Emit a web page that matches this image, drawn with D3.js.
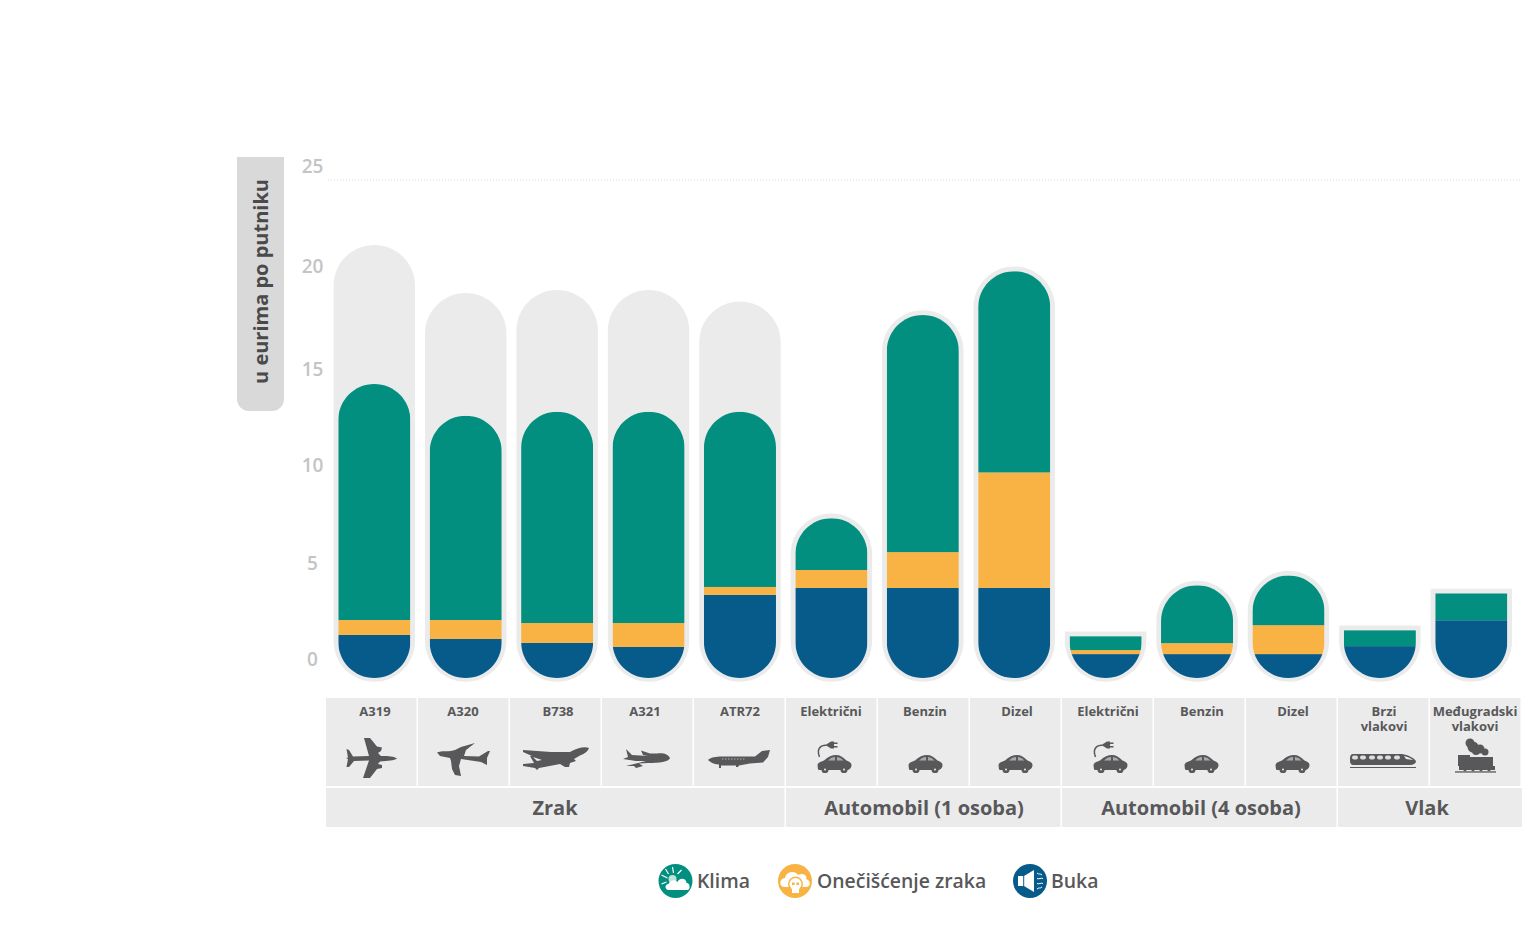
<!DOCTYPE html>
<html>
<head>
<meta charset="utf-8">
<script src="https://cdn.jsdelivr.net/npm/d3@7"></script>
<style>
  body { margin: 0; background: #fff; }
  text { font-family: "Open Sans", sans-serif; }
</style>
</head>
<body>
<div id="chart"></div>
<script>
// values
const categories = ["A319", "A320", "B738", "A321", "ATR72", "Električni", "Benzin", "Dizel", "Električni", "Benzin", "Dizel", "Brzi|vlakovi", "Međugradski|vlakovi"];
const buka = [2.16, 1.96, 1.76, 1.56, 4.17, 4.52, 4.52, 4.52, 1.2, 1.2, 1.2, 1.6, 2.9];
const oneciscenje = [0.75, 0.95, 1.0, 1.2, 0.4, 0.9, 1.8, 5.8, 0.2, 0.55, 1.45, 0, 0];
const klima = [11.85, 10.25, 10.6, 10.6, 8.8, 2.6, 11.9, 10.1, 0.7, 2.9, 2.5, 0.8, 1.35];
// grey ghost bars behind the planes
const raspon = [21.74, 19.33, 19.48, 19.48, 18.9, null, null, null, null, null, null, null, null];

const yTicks = [0, 5, 10, 15, 20, 25];
const tickNudge = [-6, -2, 0, 3, 0, -1]; // the labels are not quite evenly spaced in the original
const groups = ["Zrak", "Automobil (1 osoba)", "Automobil (4 osoba)", "Vlak"];
const groupSizes = [5, 3, 3, 2];
const groupNudge = [0, 1, 2, -2];
const icons = ["a319", "a320", "b738", "a321", "atr72", "ecar", "car", "car", "ecar", "car", "car", "fast", "steam"];
const labelNudge = [3, -1, 2, -3, 0, -1, 1, 1, 0, 2, 1, 0, -1];

const seriesNames = ["Klima", "Onečišćenje zraka", "Buka"];
const seriesColors = ["#028f80", "#f8b344", "#075b8b"];
const grey = "#ebebeb";
const ink = "#58585a";

const svg = d3.select("#chart").append("svg")
  .attr("width", 1527)
  .attr("height", 932)
  .style("display", "block");

// scales
const y = d3.scaleLinear().domain([0, 25]).range([678, 180]);
const x = d3.scaleBand().domain(d3.range(categories.length)).range([328.6, 1517]).paddingInner(0.212).paddingOuter(0.106);
const cell = d3.scaleBand().domain(d3.range(categories.length)).range([326, 1522]);

const rows = categories.map((c, i) => ({ i, buka: buka[i], oneciscenje: oneciscenje[i], klima: klima[i] }));
const stacked = d3.stack().keys(["buka", "oneciscenje", "klima"])(rows);
const colorOf = { buka: seriesColors[2], oneciscenje: seriesColors[1], klima: seriesColors[0] };

// capsule: bottom always round, top only round when the bar is tall enough
function capsule(x0, x1, top, bottom, roundTop) {
  const r = (x1 - x0) / 2;
  const k = r * 0.5523;
  let p = "";
  if (roundTop) {
    p += `M${x0},${top + r}C${x0},${top + r - k} ${x0 + r - k},${top} ${x0 + r},${top}C${x0 + r + k},${top} ${x1},${top + r - k} ${x1},${top + r}`;
  } else {
    p += `M${x0},${top}L${x1},${top}`;
  }
  p += `L${x1},${bottom - r}C${x1},${bottom - r + k} ${x0 + r + k},${bottom} ${x0 + r},${bottom}C${x0 + r - k},${bottom} ${x0},${bottom - r + k} ${x0},${bottom - r}Z`;
  return p;
}

const total = i => buka[i] + oneciscenje[i] + klima[i];
const isRound = i => total(i) > 4.5;
const pad = 4.7;

// grey backing
svg.append("g").selectAll("path")
  .data(rows)
  .join("path")
    .attr("fill", grey)
    .attr("d", d => {
      const top = raspon[d.i] ? y(raspon[d.i]) : y(total(d.i)) - pad;
      return capsule(x(d.i) - pad, x(d.i) + x.bandwidth() + pad, top, y(0) + pad - 1, isRound(d.i));
    });

// clip per bar
const defs = svg.append("defs");
defs.selectAll("clipPath")
  .data(rows)
  .join("clipPath")
    .attr("id", d => "bar" + d.i)
  .append("path")
    .attr("d", d => capsule(x(d.i), x(d.i) + x.bandwidth(), y(total(d.i)), y(0), isRound(d.i)));

// stacked segments
const barG = svg.append("g");
rows.forEach(d => {
  barG.append("g")
    .attr("clip-path", `url(#bar${d.i})`)
    .selectAll("rect")
    .data(stacked.map(s => ({ key: s.key, v: s[d.i] })))
    .join("rect")
      .attr("x", x(d.i))
      .attr("width", x.bandwidth())
      .attr("y", s => y(s.v[1]))
      .attr("height", s => y(s.v[0]) - y(s.v[1]))
      .attr("fill", s => colorOf[s.key]);
});

// y axis
svg.append("line")
  .attr("x1", 328).attr("x2", 1520)
  .attr("y1", y(25)).attr("y2", y(25))
  .attr("stroke", "#dcdcdc")
  .attr("stroke-dasharray", "1 2");

const yAxis = svg.append("g")
  .attr("transform", "translate(312.5,-14)")
  .call(d3.axisLeft(y).tickValues(yTicks).tickSize(0).tickPadding(0));
yAxis.select(".domain").remove();
yAxis.selectAll("text")
  .attr("x", 0)
  .attr("dy", (d, i) => tickNudge[i] + 7)
  .attr("text-anchor", "middle")
  .style("font-family", '"Open Sans", sans-serif')
  .style("font-size", "19px")
  .style("font-weight", 600)
  .attr("fill", "#c4c4c4");

// axis title pill
svg.append("path")
  .attr("d", "M237,157H284V399a12,12 0 0 1 -12,12H249a12,12 0 0 1 -12,-12Z")
  .attr("fill", "#d9d9d9");
svg.append("text")
  .attr("transform", "translate(267.5,281.5) rotate(-90)")
  .attr("text-anchor", "middle")
  .attr("font-size", 20)
  .attr("font-weight", 700)
  .attr("fill", "#4a4a4a")
  .text("u eurima po putniku");

// category cells
const cellG = svg.append("g");
cellG.selectAll("rect")
  .data(rows)
  .join("rect")
    .attr("x", d => cell(d.i))
    .attr("y", 698)
    .attr("width", cell.bandwidth() - 1.5)
    .attr("height", 88)
    .attr("fill", grey);

rows.forEach(d => {
  const lines = categories[d.i].split("|");
  lines.forEach((t, k) => {
    cellG.append("text")
      .attr("x", cell(d.i) + cell.bandwidth() / 2 + labelNudge[d.i])
      .attr("y", 716 + k * 15)
      .attr("text-anchor", "middle")
      .attr("font-size", 13)
      .attr("font-weight", 700)
      .attr("fill", ink)
      .text(t);
  });
});

// group row
let start = 0;
groups.forEach((g, i) => {
  const x0 = cell(start);
  const x1 = cell(start + groupSizes[i] - 1) + cell.bandwidth();
  svg.append("rect")
    .attr("x", x0).attr("y", 788)
    .attr("width", x1 - x0 - (i < groups.length - 1 ? 1.5 : 0)).attr("height", 39)
    .attr("fill", grey);
  svg.append("text")
    .attr("x", (x0 + x1) / 2 - 1 + groupNudge[i]).attr("y", 815)
    .attr("text-anchor", "middle")
    .attr("font-size", 20)
    .attr("font-weight", 700)
    .attr("fill", ink)
    .text(g);
  start += groupSizes[i];
});

// vehicle icons, drawn around the top-left corner of each cell
const carBody = "M1,14.5 L0.5,10 C1,7.5 4,6.5 7,5.5 C11,1.5 15,0 19,0 C23,0 26,2 29.5,5.5 C32.5,6.5 34.5,8 34.5,10 C34.5,13.5 32,15 30,15 L5,15 C3,15 1.5,15 1,14.5Z";
function drawCar(g, ox, oy) {
  const c = g.append("g").attr("transform", `translate(${ox},${oy})`);
  c.append("path").attr("d", carBody).attr("fill", ink);
  c.append("path").attr("d", "M11,5.5 C13.5,3 15.5,2 18,2 L18,5.5Z M20,2 C22.5,2.3 24.5,3.5 26.5,5.5 L20,5.5Z").attr("fill", "#a9a9a9");
  [8, 27].forEach(cx => {
    c.append("circle").attr("cx", cx).attr("cy", 14.5).attr("r", 3.6).attr("fill", ink);
    c.append("circle").attr("cx", cx).attr("cy", 14.5).attr("r", 1).attr("fill", grey);
  });
}

const iconDraw = {
  a319: g => g.append("path").attr("fill", ink).attr("d", "M57,26.5 C54,24.5 49,24 41,24 L38,21 L41,19 L42,15.5 L37,14.5 L30,6 L24,6 L29,24 L13,24.5 L9,18 L6.5,17 L8,25.5 L6,26 L8,27 L6.5,35 L9,35 L14,29 L29,28.5 L23,46 L30,46 L37,37 L42,36 L42,33 L38,32 L40,29.5 C48,29 54,28.5 57,26.5Z"),
  a320: g => g.append("path").attr("fill", ink).attr("d", "M7,20.5 C11,18.5 20,20 25,18 L31,15 L45,11 L36,18 L34,24 L49,24.5 L58,19 L60,19 L57,26 L57,33 L51,30 L31,27 L29,34 L31,44 L25,43 L22,37 L21,29 L20,26 L10,24Z"),
  b738: g => g.append("path").attr("fill", ink).attr("fill-rule", "evenodd").attr("d", "M74,13 C70,11 62,13 55,17 L36,17 L8,15 L8,17 L17,21 L15,21 L19,28 L8,29 L8,31 L20,33 L22,35 L24,33 L45,29 L50,32 L54,32 L55,28 L61,26 L59,24 L65,20.5 C70,18.5 73,16 74,13Z M18,22 L27,25 L22,26Z"),
  a321: g => g.append("path").attr("fill", ink).attr("d", "M51,23 C49,18.5 43,17.5 38,18.5 L31,18.5 L22,15.5 L24,20 L29,21 L13,20 L7,14 L9,22 L4,24 L17,26 L27,26 L7,31 L15,31 L17,33 L24,31 L20,28.5 L29,28 C40,28 50,27 51,23Z"),
  atr72: g => {
    g.append("path").attr("fill", ink).attr("d", "M8,25 C10,22.5 16,21.5 22,21.5 L55,21.5 L62,16 L70,15 L68,22 L63,27.5 L50,28.5 L39,30.5 L38,32 L36,32 L36,30.5 L21,30.5 L21,33 L19,33 L19,29.5 C14,29.5 10,27 8,25Z");
    g.append("line").attr("x1", 22).attr("x2", 46).attr("y1", 24).attr("y2", 24).attr("stroke", "#b5b5b5").attr("stroke-dasharray", "1.4 1.6");
  },
  car: (g, ox) => drawCar(g, ox, 57),
  ecar: (g, ox) => {
    drawCar(g, ox, 57);
    g.append("path").attr("fill", "none").attr("stroke", ink).attr("stroke-width", 1.5).attr("d", `M${ox + 2.5},59 C${ox - 1},50 ${ox + 4},47 ${ox + 11},47`);
    g.append("path").attr("fill", ink).attr("d", `M${ox + 10},46 L${ox + 14},43.5 L${ox + 17},43.5 L${ox + 17},50.5 L${ox + 14},50.5 L${ox + 10},48Z`);
    g.append("path").attr("fill", ink).attr("d", `M${ox + 17},44.5 h3.5 v1.4 h-3.5Z M${ox + 17},48 h3.5 v1.4 h-3.5Z`);
  },
  fast: g => {
    g.append("path").attr("fill", ink).attr("d", "M13,54 L62,54 C68,55 74,58 76,61 C76,63 74,65 70,65 L13,65 C11,65 10,63 10,61 L10,58 C10,56 11,54 13,54Z");
    [15, 23, 32, 40, 48, 57].forEach(cx => g.append("rect").attr("x", cx - 3).attr("y", 55.5).attr("width", 6).attr("height", 4).attr("rx", 2).attr("fill", "#dedede"));
    g.append("path").attr("fill", grey).attr("d", "M64,56 C68,57 71,58 73,60 L66,59Z");
    g.append("rect").attr("x", 10).attr("y", 67).attr("width", 66).attr("height", 1).attr("fill", ink);
  },
  steam: g => {
    [[25, 43, 4.5], [28, 47, 5.5], [35, 49, 4.5], [40, 52, 3.5], [31, 51, 4]].forEach(c => {
      g.append("circle").attr("cx", c[0]).attr("cy", c[1]).attr("r", c[2]).attr("fill", ink);
    });
    g.append("path").attr("fill", ink).attr("d", "M13,55 h12 v2 h23 v9 h2 v4 h-36 v-4 h-1Z");
    [20, 28, 36, 44].forEach(cx => g.append("circle").attr("cx", cx).attr("cy", 69.5).attr("r", 1.8).attr("fill", ink));
    g.append("rect").attr("x", 10).attr("y", 71.3).attr("width", 41).attr("height", 1.3).attr("fill", ink);
  }
};

// where each icon sits: plane and train drawings use their own local box
const iconOrigin = [[340, 732], [430, 732], [515, 735], [619, 735], [700, 735], [0, 698], [0, 698], [0, 698], [0, 698], [0, 698], [0, 698], [1340, 700], [1445, 700]];
const carLeft = [0, 0, 0, 0, 0, 817, 908, 998, 1093, 1184, 1275];
icons.forEach((name, i) => {
  const g = svg.append("g").attr("transform", `translate(${iconOrigin[i][0]},${iconOrigin[i][1]})`);
  iconDraw[name](g, carLeft[i]);
});

// legend
const legendX = [675.5, 795, 1030];
const legendText = [697, 817, 1051];
const legend = svg.append("g");
seriesNames.forEach((name, i) => {
  legend.append("circle").attr("cx", legendX[i]).attr("cy", 881).attr("r", 17).attr("fill", seriesColors[i]);
  legend.append("text")
    .attr("x", legendText[i]).attr("y", 888)
    .attr("font-size", 19.4)
    .attr("font-weight", 600)
    .attr("fill", ink)
    .text(name);
});

// legend glyphs, white on the circles
const sun = legend.append("g").attr("transform", "translate(675.5,881)");
sun.append("path").attr("stroke", "#fff").attr("stroke-width", 1.2)
  .attr("d", "M-8,-3 L-14,-6 M-7,-7 L-10,-12 M-2,-8 L-3,-14 M2,-7 L6,-11 M-9,1 L-14,3");
sun.append("circle").attr("cx", -3).attr("cy", -2).attr("r", 4).attr("fill", "#bfe2da");
sun.append("path").attr("fill", "#fff").attr("d", "M-7,9 C-11,9 -11,3 -7,3 C-6,-1 0,-2 2,1 C4,-4 11,-3 11,2 C15,2 15,9 12,9Z");

const skull = legend.append("g").attr("transform", "translate(795,881)");
skull.append("path").attr("fill", "#fff").attr("d", "M-11,6 C-16,6 -16,-3 -10,-3 C-9,-10 0,-11 3,-6 C8,-9 13,-5 11,-2 C16,-1 16,6 11,6Z");
skull.append("circle").attr("cx", 0.5).attr("cy", 3).attr("r", 7.5).attr("fill", seriesColors[1]);
skull.append("circle").attr("cx", 0.5).attr("cy", 3).attr("r", 6).attr("fill", "#fff");
skull.append("rect").attr("x", -3).attr("y", 6).attr("width", 7).attr("height", 6).attr("fill", "#fff");
skull.append("path").attr("fill", seriesColors[1]).attr("d", "M-3,1.5 h2.6 v2.6 h-2.6Z M1.4,1.5 h2.6 v2.6 h-2.6Z");

const speaker = legend.append("g").attr("transform", "translate(1030,881)");
speaker.append("path").attr("fill", "#fff").attr("d", "M-12,-5 H-6 L4,-11 V11 L-6,5 H-12Z");
speaker.append("path").attr("fill", seriesColors[2]).attr("d", "M-6.8,-5 h1 v10 h-1Z");
speaker.append("path").attr("fill", "none").attr("stroke", "#fff").attr("stroke-width", 1)
  .attr("d", "M7,-8 C9,-6 10,-8 12,-6 M7,-2.5 C9,-1.5 11,-3.5 13,-2.5 M7,2.5 C9,3.5 11,1.5 13,2.5 M7,8 C9,6 10,8 12,6");
</script>
</body>
</html>
